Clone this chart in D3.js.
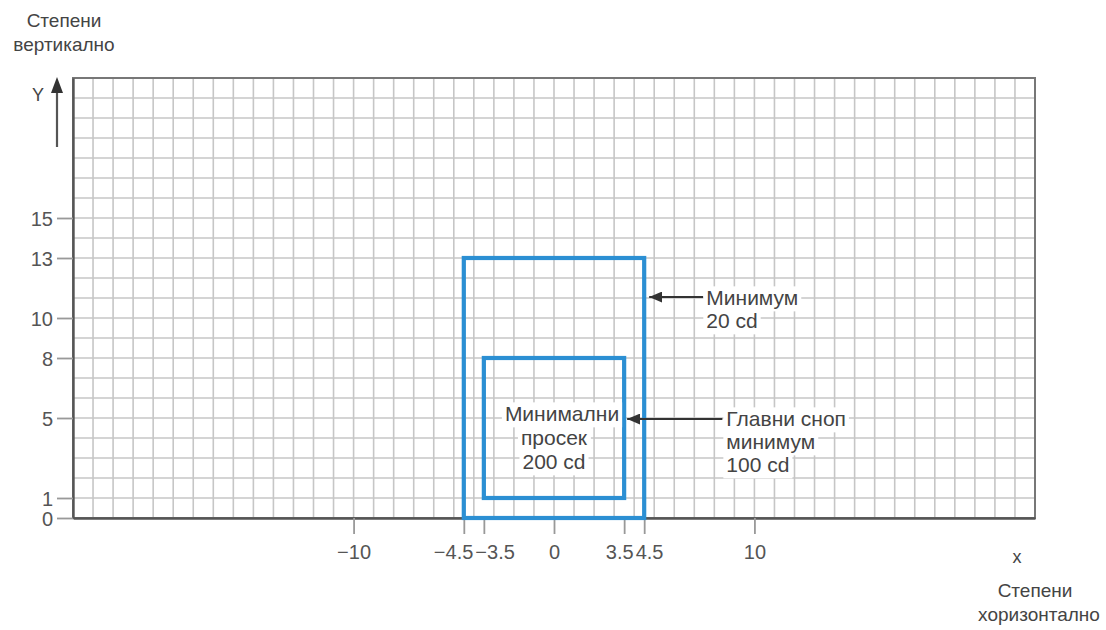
<!DOCTYPE html>
<meta charset="utf-8">
<style>
  body { margin: 0; background: #fff; }
  svg text { font-family: "Liberation Sans", Arial, sans-serif; fill: #444; }
  .tick text { font-size: 20px; fill: #555; }
</style>
<body>
<svg width="1106" height="630"></svg>
<script src="https://d3js.org/d3.v7.min.js"></script>
<script>
  // axis values and ticks
  var xDomain = [-24, 24];
  var yDomain = [0, 22];
  var xTicks = [-10, -4.5, -3.5, 0, 3.5, 4.5, 10];
  var yTicks = [0, 1, 5, 8, 10, 13, 15];

  // the two zones, in degrees
  var zones = [
    { x0: -4.5, x1: 4.5, y0: 0, y1: 13 },
    { x0: -3.5, x1: 3.5, y0: 1, y1: 8 }
  ];

  // callouts: text, anchor of text, arrow from -> to (degrees)
  var callouts = [
    { lines: ["Минимум", "20 cd"], tx: 7.6, ty: 11, ax: 7.45, ay: 11.05, bx: 4.75, by: 11.05 },
    { lines: ["Главни сноп", "минимум", "100 cd"], tx: 8.6, ty: 4.95, ax: 8.4, ay: 4.95, bx: 3.65, by: 4.95 }
  ];
  var centerLabel = ["Минимални", "просек", "200 cd"];

  var svg = d3.select("svg");
  var x = d3.scaleLinear().domain(xDomain).range([73, 1035]);
  var y = d3.scaleLinear().domain(yDomain).range([518, 78]);

  var fmt = function (d) { return d < 0 ? "\u2212" + Math.abs(d) : String(d); };

  // grid, one line per degree
  var grid = svg.append("g");
  grid.selectAll(".gx").data(d3.range(xDomain[0] + 1, xDomain[1]))
    .enter().append("line")
    .attr("x1", d => x(d)).attr("x2", d => x(d))
    .attr("y1", y(yDomain[0])).attr("y2", y(yDomain[1]))
    .attr("stroke", "#c6c6c6").attr("stroke-width", 1.6);
  grid.selectAll(".gy").data(d3.range(yDomain[0] + 1, yDomain[1]))
    .enter().append("line")
    .attr("y1", d => y(d)).attr("y2", d => y(d))
    .attr("x1", x(xDomain[0])).attr("x2", x(xDomain[1]))
    .attr("stroke", "#c6c6c6").attr("stroke-width", 1.6);

  // frame
  svg.append("rect")
    .attr("x", x(xDomain[0])).attr("y", y(yDomain[1]))
    .attr("width", x(xDomain[1]) - x(xDomain[0]))
    .attr("height", y(yDomain[0]) - y(yDomain[1]))
    .attr("fill", "none").attr("stroke", "#777").attr("stroke-width", 2);

  // axes
  var yAxis = d3.axisLeft(y).tickValues(yTicks).tickSize(16).tickSizeOuter(0)
    .tickPadding(4).tickFormat(fmt);
  var gy = svg.append("g").attr("transform", `translate(${x(xDomain[0])},0)`).call(yAxis);
  gy.select(".domain").attr("stroke", "#555").attr("stroke-width", 2.4);
  gy.selectAll(".tick line").attr("stroke", "#999").attr("stroke-width", 1.8);
  gy.selectAll(".tick text").attr("dy", "0.35em");

  var xAxis = d3.axisBottom(x).tickValues(xTicks).tickSize(16).tickSizeOuter(0)
    .tickPadding(11).tickFormat(fmt);
  var gx = svg.append("g").attr("transform", `translate(0,${y(yDomain[0])})`).call(xAxis);
  gx.select(".domain").attr("stroke", "#555").attr("stroke-width", 2.4);
  gx.selectAll(".tick line").attr("stroke", "#999").attr("stroke-width", 1.8);
  // push apart labels of ticks that sit one degree apart
  gx.selectAll(".tick text").each(function (d, i) {
    var t = d3.select(this);
    if (i < xTicks.length - 1 && xTicks[i + 1] - d < 1.5) t.attr("text-anchor", "end").attr("x", 9);
    else if (i > 0 && d - xTicks[i - 1] < 1.5) t.attr("text-anchor", "start").attr("x", -9);
  });

  // zones
  svg.selectAll(".zone").data(zones).enter().append("rect")
    .attr("x", d => x(d.x0)).attr("y", d => y(d.y1))
    .attr("width", d => x(d.x1) - x(d.x0))
    .attr("height", d => y(d.y0) - y(d.y1))
    .attr("fill", "none").attr("stroke", "#2b8fd3").attr("stroke-width", 4.2);

  // arrowhead
  svg.append("defs").append("marker")
    .attr("id", "head").attr("viewBox", "0 0 13 11")
    .attr("refX", 13).attr("refY", 5.5)
    .attr("markerWidth", 13).attr("markerHeight", 11)
    .attr("markerUnits", "userSpaceOnUse").attr("orient", "auto")
    .append("path").attr("d", "M0,0L13,5.5L0,11Z").attr("fill", "#333");

  function textBlock(lines, px, py, anchor, lh, shift) {
    var g = svg.append("g");
    lines.forEach(function (s, i) {
      var t = g.append("text").attr("x", px + (shift ? shift[i] : 0)).attr("y", py + i * lh)
        .attr("text-anchor", anchor).attr("dy", "0.35em")
        .style("font-size", "21px").text(s);
      var b = t.node().getBBox();
      g.insert("rect", "text").attr("x", b.x - 3).attr("y", b.y)
        .attr("width", b.width + 6).attr("height", b.height + 2).attr("fill", "#fff");
    });
  }

  callouts.forEach(function (c) {
    svg.append("line")
      .attr("x1", x(c.ax)).attr("y1", y(c.ay)).attr("x2", x(c.bx)).attr("y2", y(c.by))
      .attr("stroke", "#333").attr("stroke-width", 2).attr("marker-end", "url(#head)");
    textBlock(c.lines, x(c.tx), y(c.ty), "start", 23);
  });
  textBlock(centerLabel, x(0), y(5.2), "middle", 24, [8, 0, 0]);

  // Y arrow and axis names
  svg.append("line").attr("x1", 57).attr("x2", 57).attr("y1", 147).attr("y2", 90)
    .attr("stroke", "#555").attr("stroke-width", 2.2);
  svg.append("path").attr("d", "M57,77L63,93L51,93Z").attr("fill", "#333");
  svg.append("text").attr("x", 38).attr("y", 101).attr("text-anchor", "middle")
    .style("font-size", "18px").text("Y");
  svg.append("text").attr("x", 1017).attr("y", 563).attr("text-anchor", "middle")
    .style("font-size", "18px").text("x");

  var nameY = svg.append("text").attr("text-anchor", "middle").style("font-size", "19px");
  nameY.append("tspan").attr("x", 64).attr("y", 27).text("Степени");
  nameY.append("tspan").attr("x", 64).attr("y", 51).text("вертикално");
  var nameX = svg.append("text").attr("text-anchor", "middle").style("font-size", "19px");
  nameX.append("tspan").attr("x", 1035).attr("y", 597).text("Степени");
  nameX.append("tspan").attr("x", 1039).attr("y", 621).text("хоризонтално");
</script>
</body>
